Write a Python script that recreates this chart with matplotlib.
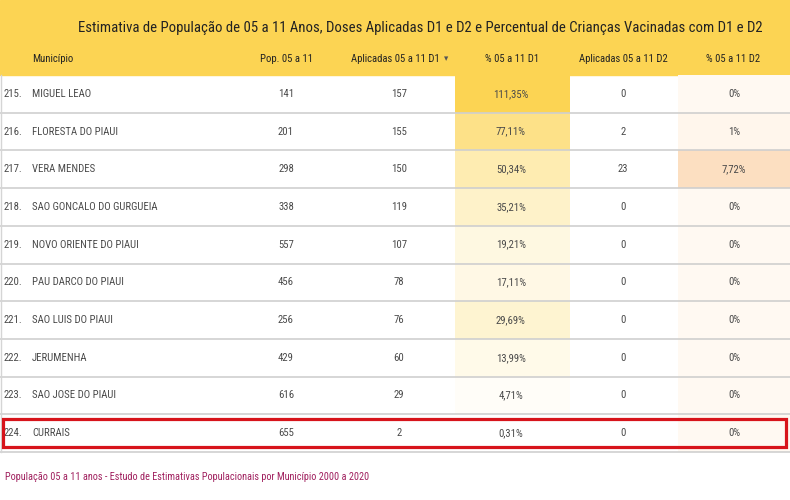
import numpy as np
import matplotlib
matplotlib.use("Agg")
from matplotlib import pyplot as plt
from matplotlib.colors import LinearSegmentedColormap
from matplotlib.patches import Rectangle

plt.rcParams['font.family'] = ['Roboto Condensed', 'DejaVu Sans']

title = "Estimativa de População de 05 a 11 Anos, Doses Aplicadas D1 e D2 e Percentual de Crianças Vacinadas com D1 e D2"
headers = ["Município", "Pop. 05 a 11", "Aplicadas 05 a 11 D1", "% 05 a 11 D1",
           "Aplicadas 05 a 11 D2", "% 05 a 11 D2"]
footer = "População 05 a 11 anos - Estudo de Estimativas Populacionais por Município 2000 a 2020"

ranks = [215, 216, 217, 218, 219, 220, 221, 222, 223, 224]
municipios = ["MIGUEL LEAO", "FLORESTA DO PIAUI", "VERA MENDES", "SAO GONCALO DO GURGUEIA",
              "NOVO ORIENTE DO PIAUI", "PAU DARCO DO PIAUI", "SAO LUIS DO PIAUI",
              "JERUMENHA", "SAO JOSE DO PIAUI", "CURRAIS"]
pop = [141, 201, 298, 338, 557, 456, 256, 429, 616, 655]
d1 = [157, 155, 150, 119, 107, 78, 76, 60, 29, 2]
pct_d1 = [111.35, 77.11, 50.34, 35.21, 19.21, 17.11, 29.69, 13.99, 4.71, 0.31]
d2 = [0, 2, 23, 0, 0, 0, 0, 0, 0, 0]
pct_d2 = [0, 1, 7.72, 0, 0, 0, 0, 0, 0, 0]
highlight = "CURRAIS"


def fmt_pct(v):
    if v == int(v):
        return "%d%%" % v
    return ("%.2f%%" % v).replace(".", ",")


W, H = 790, 500
fig = plt.figure(figsize=(W / 100, H / 100), dpi=100)
ax = fig.add_axes([0, 0, 1, 1])
ax.set_xlim(0, W)
ax.set_ylim(H, 0)
ax.axis("off")
renderer = fig.canvas.get_renderer()


def fit_size(s, width, base=10):
    # font size that makes the string about `width` pixels wide
    t = ax.text(0, 0, s, fontsize=base)
    w = t.get_window_extent(renderer).width
    t.remove()
    return base * width / w


yellow = "#fcd453"
head_h = 75
row_h = 37.7
n = len(municipios)
edges = head_h + row_h * np.arange(n + 1)
centers = (edges[:-1] + edges[1:]) / 2

# reference font is squeezed sideways, so sizes are a bit larger than a pure width fit
fs_title = fit_size(title, 680)
fs_head = fit_size("Aplicadas 05 a 11 D2", 88)
fs_row = fit_size("SAO GONCALO DO GURGUEIA", 126)
fs_foot = fit_size(footer, 360)

# header band
ax.add_patch(Rectangle((0, 0), W, head_h, color=yellow, zorder=0))
ax.text(420, 28, title, ha="center", va="center", fontsize=fs_title, color="#222222")

col_x = [32, 287, 395, 512, 623, 733]
for i, (h, x) in enumerate(zip(headers, col_x)):
    ax.text(x, 59, h, ha="left" if i == 0 else "center", va="center",
            fontsize=fs_head, color="#222222")
ax.text(446, 59, "▾", ha="center", va="center", fontsize=fs_head * 0.8,
        color="#555555", family="DejaVu Sans")

# heat cells
cm1 = LinearSegmentedColormap.from_list("d1", ["#ffffff", yellow])
cm2 = LinearSegmentedColormap.from_list("d2", ["#fff9f2", "#fcdfc1"])
ax.pcolormesh([455, 570], edges, np.array(pct_d1)[:, None], cmap=cm1,
              vmin=0, vmax=max(pct_d1), zorder=1)
ax.pcolormesh([678, W], edges, np.array(pct_d2)[:, None], cmap=cm2,
              vmin=0, vmax=max(pct_d2), zorder=1)

# row lines
for y in edges[1:]:
    ax.plot([0, W], [y, y], color="#cfcfcf", lw=1.2, zorder=2)
ax.plot([1, 1], [head_h, edges[-1]], color="#d5d5d5", lw=1.0, zorder=2)

txt = dict(va="center", fontsize=fs_row, color="#4a4a4a", zorder=3)
for i in range(n):
    y = centers[i]
    ax.text(4, y, "%d." % ranks[i], ha="left", **txt)
    ax.text(32, y, municipios[i], ha="left", **txt)
    ax.text(286, y, str(pop[i]), ha="center", **txt)
    ax.text(399, y, str(d1[i]), ha="center", **txt)
    ax.text(511, y, fmt_pct(pct_d1[i]), ha="center", **txt)
    ax.text(623, y, str(d2[i]), ha="center", **txt)
    ax.text(734, y, fmt_pct(pct_d2[i]), ha="center", **txt)
    if municipios[i] == highlight:
        ax.add_patch(Rectangle((3, edges[i] + 5), W - 7, row_h - 10, fill=False,
                               ec="#d7141b", lw=2.3, zorder=4))

ax.text(5, 477, footer, ha="left", va="center", fontsize=fs_foot, color="#a0205e")

fig.savefig("out.png", dpi=100)
